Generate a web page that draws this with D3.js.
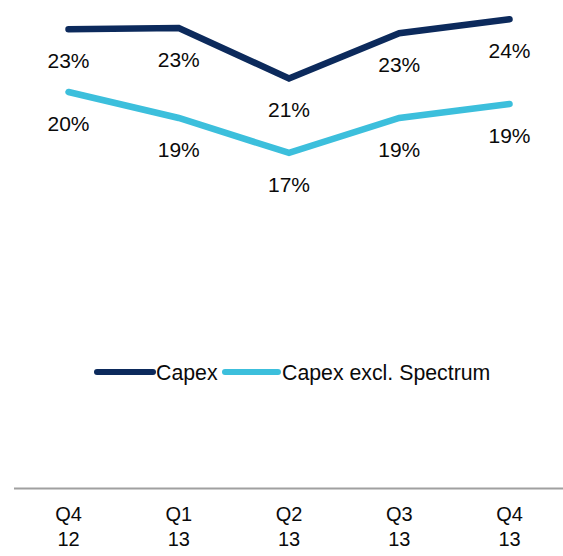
<!DOCTYPE html>
<html>
<head>
<meta charset="utf-8">
<script src="https://cdn.jsdelivr.net/npm/d3@7"></script>
<style>
  html, body { margin: 0; padding: 0; background: #fff; }
  svg { display: block; font-family: Arial, "Liberation Sans", sans-serif; }
</style>
</head>
<body>
<svg id="chart" width="563" height="556"></svg>
<script>
// Quarter categories (two-line labels)
const quarters = ["Q4 12", "Q1 13", "Q2 13", "Q3 13", "Q4 13"];
const quarterTop = ["Q4", "Q1", "Q2", "Q3", "Q4"];
const quarterBottom = ["12", "13", "13", "13", "13"];

// Capex as share of revenue (%)
const capex = [23.27, 23.34, 20.68, 23.06, 23.8];
const capexExSpectrum = [19.97, 18.6, 16.76, 18.6, 19.34];

const seriesNames = ["Capex", "Capex excl. Spectrum"];
const seriesColors = ["#0c2a5c", "#3cbfdc"];

const svg = d3.select("#chart");

const x = d3.scalePoint().domain(quarters).range([68.5, 509.5]);
const y = d3.scaleLinear().domain([0, 25]).range([471.4, -3.6]);

const series = [
  { name: seriesNames[0], values: capex, color: seriesColors[0] },
  { name: seriesNames[1], values: capexExSpectrum, color: seriesColors[1] }
];

const line = d3.line()
  .x((d, i) => x(quarters[i]))
  .y(d => y(d));

// Lines
svg.selectAll("path.series")
  .data(series)
  .join("path")
  .attr("class", "series")
  .attr("d", s => line(s.values))
  .attr("fill", "none")
  .attr("stroke", s => s.color)
  .attr("stroke-width", 6.5)
  .attr("stroke-linecap", "round")
  .attr("stroke-linejoin", "miter");

// Value labels under each point
series.forEach(s => {
  svg.append("g")
    .selectAll("text")
    .data(s.values)
    .join("text")
    .attr("x", (d, i) => x(quarters[i]))
    .attr("y", d => y(d) + 39)
    .attr("text-anchor", "middle")
    .attr("font-size", 21)
    .attr("fill", "#0a0a0a")
    .text(d => Math.round(d) + "%");
});

// Legend
const legend = svg.append("g");
const legendItems = [
  { x1: 97, x2: 153, tx: 156 },
  { x1: 225, x2: 278, tx: 282 }
];
legendItems.forEach((it, i) => {
  legend.append("line")
    .attr("x1", it.x1).attr("x2", it.x2)
    .attr("y1", 372).attr("y2", 372)
    .attr("stroke", seriesColors[i])
    .attr("stroke-width", 6)
    .attr("stroke-linecap", "round");
  legend.append("text")
    .attr("x", it.tx)
    .attr("y", 379.5)
    .attr("font-size", 21.3)
    .attr("fill", "#0a0a0a")
    .text(seriesNames[i]);
});

// Category axis
svg.append("line")
  .attr("x1", 14).attr("x2", 563)
  .attr("y1", 488.5).attr("y2", 488.5)
  .attr("stroke", "#a0a0a0")
  .attr("stroke-width", 2);

const ticks = svg.append("g")
  .selectAll("text")
  .data(quarters)
  .join("text")
  .attr("text-anchor", "middle")
  .attr("font-size", 20)
  .attr("fill", "#0a0a0a");
ticks.append("tspan")
  .attr("x", d => x(d))
  .attr("y", 520.5)
  .text((d, i) => quarterTop[i]);
ticks.append("tspan")
  .attr("x", d => x(d))
  .attr("y", 546)
  .text((d, i) => quarterBottom[i]);
</script>
</body>
</html>
